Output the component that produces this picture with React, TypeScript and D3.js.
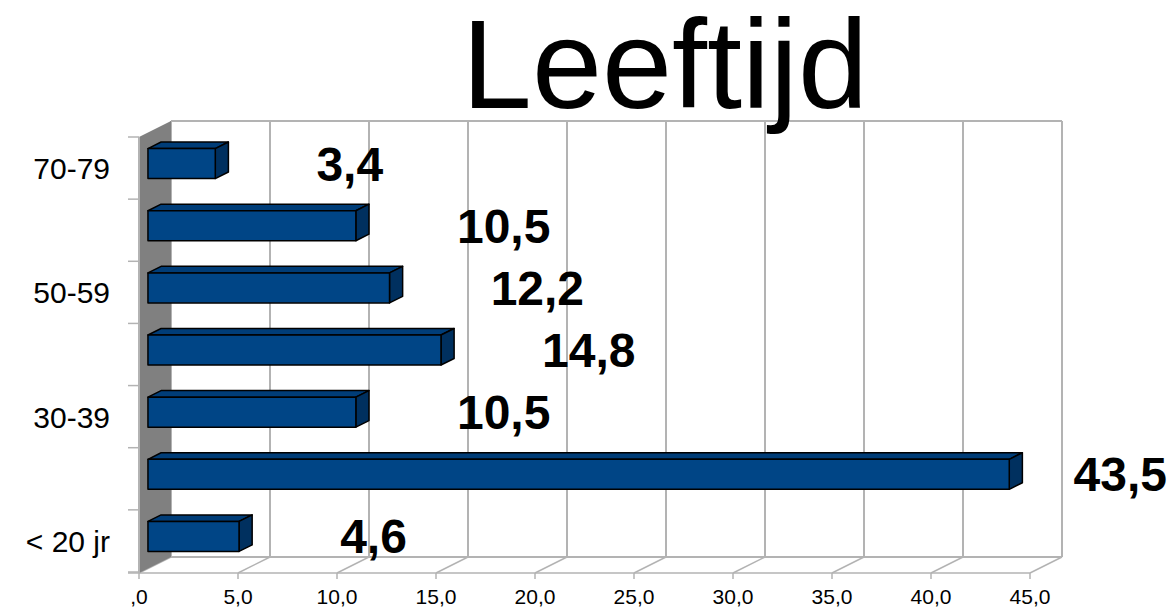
import React from "react";
import * as d3 from "d3";

const categories = ["< 20 jr", "20-29", "30-39", "40-49", "50-59", "60-69", "70-79"];
const values = [4.6, 43.5, 10.5, 14.8, 12.2, 10.5, 3.4];
const shownCategoryLabels = ["< 20 jr", "30-39", "50-59", "70-79"];
const xTicks = [0, 5, 10, 15, 20, 25, 30, 35, 40, 45];
const xTickLabels = [",0", "5,0", "10,0", "15,0", "20,0", "25,0", "30,0", "35,0", "40,0", "45,0"];
const valueLabels = ["4,6", "43,5", "10,5", "14,8", "12,2", "10,5", "3,4"];

const W = 1173;
const H = 613;
const FONT = "'Liberation Sans', Arial, sans-serif";

// 3d depth vector of the plot box
const DX = 32;
const DY = -16;
const frontTop = 137;
const frontBottom = 573;

const App: React.FC = () => {
  const x = d3.scaleLinear().domain([0, 45]).range([139, 1030]);
  const y = d3
    .scaleBand<string>()
    .domain([...categories].reverse())
    .range([frontTop, frontBottom - 1]);
  const bw = y.bandwidth();

  const barH = 30;
  const d0 = 0.28; // bar front depth
  const d1 = 0.69; // bar back depth
  const bdx = (d1 - d0) * DX;
  const bdy = (d1 - d0) * DY;

  const charW = (s: string) =>
    s.split("").reduce((a, c) => a + (c === "," ? 0.278 : 0.556), 0);

  const grid = "#b3b3b3";

  return (
    <div style={{ position: "fixed", left: 0, top: 0 }}>
      <svg width={W} height={H} style={{ display: "block", background: "#fff" }}>
        {/* back wall */}
        <line x1={x(0) + DX} x2={x(45) + DX} y1={frontTop + DY} y2={frontTop + DY} stroke={grid} strokeWidth={2} />
        <line x1={x(0) + DX} x2={x(45) + DX} y1={frontBottom + DY} y2={frontBottom + DY} stroke={grid} strokeWidth={2} />
        {xTicks.map((t, i) => (
          <g key={"g" + t}>
            <line x1={x(t) + DX} x2={x(t) + DX} y1={frontTop + DY} y2={frontBottom + DY} stroke={grid} strokeWidth={2} />
            <line x1={x(t)} x2={x(t) + DX} y1={frontBottom} y2={frontBottom + DY} stroke={grid} strokeWidth={1.5} />
            <line x1={x(t)} x2={x(t)} y1={frontBottom} y2={frontBottom + 6} stroke={grid} strokeWidth={1.5} />
            <text x={x(t)} y={604} textAnchor="middle" fontFamily={FONT} fontSize={21} fill="#000">
              {xTickLabels[i]}
            </text>
          </g>
        ))}
        <line x1={128} x2={x(45)} y1={frontBottom} y2={frontBottom} stroke={grid} strokeWidth={1.5} />

        {/* left wall */}
        <path
          d={`M${x(0)},${frontTop} L${x(0) + DX},${frontTop + DY} L${x(0) + DX},${frontBottom + DY} L${x(0)},${frontBottom} Z`}
          fill="#808080"
        />
        <line x1={x(0)} x2={x(0)} y1={frontTop} y2={frontBottom} stroke={grid} strokeWidth={2} />
        {y.domain().map((c) => (
          <line key={"t" + c} x1={128} x2={x(0)} y1={y(c)!} y2={y(c)!} stroke={grid} strokeWidth={1.5} />
        ))}
        <line x1={128} x2={x(0)} y1={frontBottom - 1} y2={frontBottom - 1} stroke={grid} strokeWidth={1.5} />

        {/* category labels */}
        {shownCategoryLabels.map((c) => (
          <text
            key={"c" + c}
            x={110}
            y={y(c)! + bw / 2 + 11}
            textAnchor="end"
            fontFamily={FONT}
            fontSize={30}
            fill="#000"
          >
            {c}
          </text>
        ))}

        {/* bars */}
        {categories.map((c, i) => {
          const v = values[i];
          const x0 = x(0) + d0 * DX;
          const x1 = x(v) + d0 * DX;
          const yc = y(c)! + bw / 2 + d0 * DY;
          const y0 = yc - barH / 2;
          const y1 = yc + barH / 2;
          return (
            <g key={"b" + c} stroke="#000" strokeWidth={1.5} strokeLinejoin="round">
              <path
                d={`M${x0},${y0} L${x0 + bdx},${y0 + bdy} L${x1 + bdx},${y0 + bdy} L${x1},${y0} Z`}
                fill="#003d78"
              />
              <path
                d={`M${x1},${y0} L${x1 + bdx},${y0 + bdy} L${x1 + bdx},${y1 + bdy} L${x1},${y1} Z`}
                fill="#00305f"
              />
              <rect x={x0} y={y0} width={x1 - x0} height={barH} fill="#004586" />
            </g>
          );
        })}

        {/* value labels */}
        {categories.map((c, i) => {
          const v = values[i];
          const label = valueLabels[i];
          const lw = charW(label) * 48;
          const end = x(v) + d1 * DX;
          let lx = end + 88;
          if (lx + lw > W - 6) lx = W - 6 - lw;
          const yc = y(c)! + bw / 2 + d0 * DY;
          return (
            <text
              key={"v" + c}
              x={lx}
              y={yc + 17}
              fontFamily={FONT}
              fontSize={48}
              fontWeight="bold"
              fill="#000"
            >
              {label}
            </text>
          );
        })}

        {/* title */}
        <text x={665} y={108} textAnchor="middle" fontFamily={FONT} fontSize={126} fill="#000">
          Leeftijd
        </text>
      </svg>
    </div>
  );
};

export default App;
